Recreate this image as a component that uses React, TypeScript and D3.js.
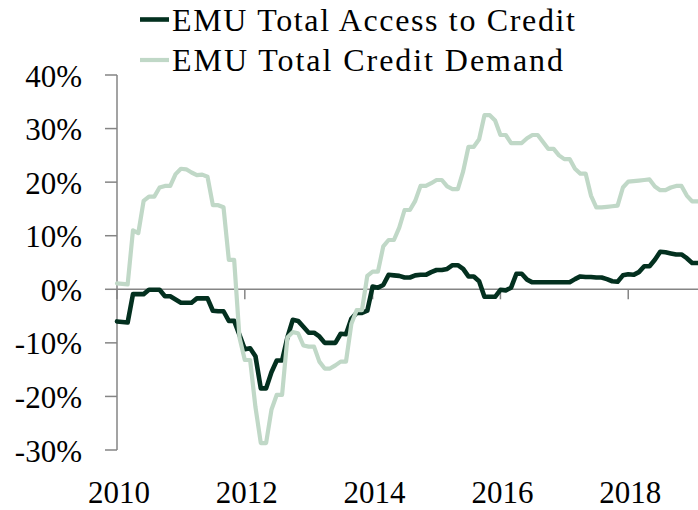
import React from 'react';
import * as d3 from 'd3';

// Monthly observations, Jan 2010 .. Feb 2019 (values in %)
const accessToCredit: number[] = [
  -6.0, -6.1, -6.2, -0.9, -0.9, -0.9, -0.1, -0.1, -0.1, -1.3,
  -1.3, -1.9, -2.5, -2.5, -2.5, -1.7, -1.7, -1.7, -4.0, -4.1,
  -4.1, -5.9, -5.9, -8.5, -11.2, -11.0, -12.5, -18.5, -18.5, -15.5,
  -13.3, -13.3, -9.0, -5.7, -5.9, -7.0, -8.1, -8.1, -8.8, -10.0,
  -10.0, -10.0, -8.3, -8.4, -5.5, -4.4, -4.4, -4.0, 0.5, 0.3,
  0.8, 2.7, 2.6, 2.5, 2.2, 2.2, 2.6, 2.7, 2.7, 3.2,
  3.6, 3.6, 3.8, 4.5, 4.5, 3.8, 2.4, 2.4, 1.5, -1.4,
  -1.4, -1.4, -0.1, -0.2, 0.3, 2.9, 2.9, 1.8, 1.3, 1.3,
  1.3, 1.3, 1.3, 1.3, 1.3, 1.3, 1.9, 2.4, 2.3, 2.3,
  2.2, 2.2, 1.9, 1.5, 1.4, 2.6, 2.8, 2.7, 3.2, 4.3,
  4.3, 5.5, 7.0, 6.9, 6.7, 6.5, 6.5, 5.8, 4.9, 4.9,
];

const creditDemand: number[] = [
  1.1, 1.0, 0.9, 11.0, 10.5, 16.5, 17.3, 17.3, 19.0, 19.3,
  19.3, 21.5, 22.5, 22.4, 21.8, 21.3, 21.4, 21.0, 15.7, 15.7,
  15.3, 5.5, 5.5, -9.0, -13.2, -13.2, -22.0, -28.7, -28.7, -22.5,
  -19.7, -19.7, -9.0, -8.0, -8.2, -10.5, -10.7, -10.7, -13.5, -14.8,
  -14.8, -14.2, -13.5, -13.5, -6.5, -3.9, -3.9, 2.5, 3.3, 3.3,
  8.0, 9.2, 9.2, 11.5, 14.8, 14.8, 16.5, 19.3, 19.3, 19.8,
  20.4, 20.4, 19.2, 18.7, 18.7, 22.0, 26.6, 26.6, 28.0, 32.5,
  32.5, 31.5, 28.8, 28.8, 27.3, 27.3, 27.3, 28.2, 28.8, 28.8,
  27.5, 26.2, 26.2, 25.0, 24.3, 24.3, 22.5, 21.6, 21.6, 17.5,
  15.3, 15.3, 15.4, 15.5, 15.6, 19.0, 20.1, 20.2, 20.3, 20.4,
  20.5, 19.2, 18.5, 18.5, 19.0, 19.3, 19.3, 17.5, 16.4, 16.4,
];

const months: number[] = d3.range(accessToCredit.length);
const yTicks: number[] = [40, 30, 20, 10, 0, -10, -20, -30];
const xTickMonths: number[] = [0, 24, 48, 72, 96];
const xTickLabels: string[] = ['2010', '2012', '2014', '2016', '2018'];
const seriesNames: string[] = ['EMU Total Access to Credit', 'EMU Total Credit Demand'];

const W = 698;
const H = 510;
const DARK = '#03301F';
const LIGHT = '#C0D8C7';
const AXIS = '#858585';
const FONT = '"Liberation Serif", "Times New Roman", serif';

export default function App() {
  const x = d3.scaleLinear().domain([0, 109.1]).range([117, 698]);
  const y = d3.scaleLinear().domain([-30, 40]).range([450, 75]);

  const line = d3
    .line<number>()
    .x((_, i) => x(months[i]))
    .y((d) => y(d))
    .curve(d3.curveLinear);

  const [x0, x1] = x.range();

  return (
    <svg
      width={W}
      height={H}
      style={{ position: 'absolute', left: 0, top: 0, background: '#fff' }}
    >
      {/* y axis */}
      <line x1={x0} x2={x0} y1={y(40)} y2={y(-30)} stroke={AXIS} strokeWidth={1.5} />
      {yTicks.map((t) => (
        <g key={t}>
          <line x1={x0 - 12} x2={x0} y1={y(t)} y2={y(t)} stroke={AXIS} strokeWidth={1.5} />
          <text
            x={82}
            y={y(t) + 11.5}
            textAnchor="end"
            fontFamily={FONT}
            fontSize={31}
            fill="#000"
          >
            {t}%
          </text>
        </g>
      ))}
      {/* x axis at zero */}
      <line x1={x0} x2={x1} y1={y(0)} y2={y(0)} stroke={AXIS} strokeWidth={1.5} />
      {xTickMonths.map((m, i) => (
        <g key={m}>
          <line x1={x(m)} x2={x(m)} y1={y(0)} y2={y(0) + 10} stroke={AXIS} strokeWidth={1.5} />
          <text
            x={x(m) + 2}
            y={503}
            textAnchor="middle"
            fontFamily={FONT}
            fontSize={31}
            fill="#000"
          >
            {xTickLabels[i]}
          </text>
        </g>
      ))}

      {/* series */}
      <path
        d={line(accessToCredit) || ''}
        fill="none"
        stroke={DARK}
        strokeWidth={4.6}
        strokeLinejoin="round"
        strokeLinecap="round"
      />
      <path
        d={line(creditDemand) || ''}
        fill="none"
        stroke={LIGHT}
        strokeWidth={4.2}
        strokeLinejoin="round"
        strokeLinecap="round"
      />

      {/* legend */}
      <line x1={140} x2={169} y1={19.5} y2={19.5} stroke={DARK} strokeWidth={4.6} />
      <text x={172} y={30.7} fontFamily={FONT} fontSize={32} fill="#000" textLength={403}>
        {seriesNames[0]}
      </text>
      <line x1={140} x2={169} y1={60} y2={60} stroke={LIGHT} strokeWidth={4.2} />
      <text x={172} y={70.5} fontFamily={FONT} fontSize={32} fill="#000" textLength={391}>
        {seriesNames[1]}
      </text>
    </svg>
  );
}
